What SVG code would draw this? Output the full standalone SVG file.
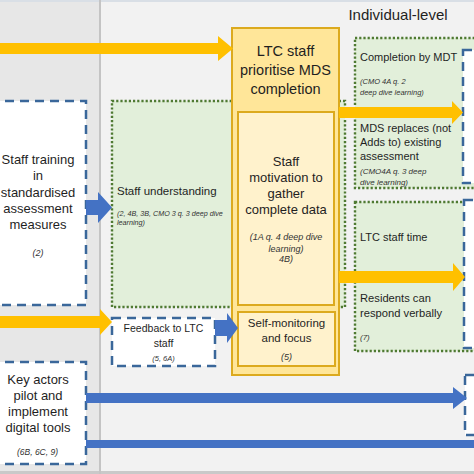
<svg xmlns="http://www.w3.org/2000/svg" width="474" height="474" viewBox="0 0 474 474">
<style>
text{font-family:"Liberation Sans",Arial,sans-serif;fill:#1f1f1f}
.it{font-style:italic;fill:#333333}
.c{text-anchor:middle}
.dash{fill:#ffffff;stroke:#3a679a;stroke-width:2.5;stroke-dasharray:9 6}
.dot{fill:#e2efda;stroke:#4f7a32;stroke-width:2.4;stroke-dasharray:2.2 2}
.gold{stroke:#dcaa1e;stroke-width:2}
.oa{fill:#ffc000}
.ba{fill:#4472c4}
</style>
<g id="background">
<rect x="0" y="0" width="100" height="474" fill="#e7e7e7"/>
<rect x="100" y="0" width="374" height="474" fill="#f2f2f2"/>
<rect x="0" y="0" width="474" height="2" fill="#d9dfe6"/>
<rect x="0" y="471" width="474" height="3" fill="#c9c9c9"/>
<line x1="100" y1="0" x2="100" y2="474" stroke="#c4c4c4" stroke-width="2"/>
<text x="398" y="20" class="c" font-size="15">Individual-level</text>
</g>
<g id="staff-training">
<rect x="-10" y="101" width="96" height="204" class="dash"/>
<text class="c" font-size="13"><tspan x="38" y="164">Staff training</tspan><tspan x="38" y="180">in</tspan><tspan x="38" y="197">standardised</tspan><tspan x="38" y="213">assessment</tspan><tspan x="38" y="229">measures</tspan></text>
<text x="38" y="256" class="c it" font-size="9">(2)</text>
</g>
<g id="staff-understanding">
<rect x="112" y="101" width="233" height="206" class="dot"/>
<text x="117" y="195" font-size="11.5">Staff understanding</text>
<text class="it" font-size="7.2"><tspan x="117" y="215.5">(2, 4B, 3B, CMO 3 q. 3 deep dive</tspan><tspan x="117" y="224.5">learning)</tspan></text>
</g>
<g id="right-green-1">
<rect x="355" y="38" width="125" height="150" class="dot"/>
<text x="360" y="61" font-size="11">Completion by MDT</text>
<text class="it" font-size="7.5"><tspan x="360" y="83.5">(CMO 4A q. 2</tspan><tspan x="360" y="94.5">deep dive learning)</tspan></text>
<text font-size="11"><tspan x="360" y="132">MDS replaces (not</tspan><tspan x="360" y="146">Adds to) existing</tspan><tspan x="360" y="160">assessment</tspan></text>
<text class="it" font-size="8"><tspan x="360" y="173.5">(CMO4A q. 3 deep</tspan><tspan x="360" y="184.5">dive learning)</tspan></text>
</g>
<g id="right-green-2">
<rect x="355" y="202" width="125" height="149" class="dot"/>
<text x="360" y="241" font-size="11">LTC staff time</text>
<text font-size="11.2"><tspan x="360" y="302">Residents can</tspan><tspan x="360" y="317">respond verbally</tspan></text>
<text x="360" y="340" class="it" font-size="8">(7)</text>
</g>
<g id="right-boxes">
<rect x="463" y="50" width="20" height="133" class="dash"/>
<rect x="464" y="200" width="20" height="148" class="dash"/>
<rect x="465" y="375" width="20" height="60" class="dash"/>
</g>
<g id="ltc-prioritise">
<rect x="232" y="28" width="107" height="347" fill="#ffe699" class="gold"/>
<text class="c" font-size="14.5"><tspan x="285.5" y="56">LTC staff</tspan><tspan x="285.5" y="75">prioritise MDS</tspan><tspan x="285.5" y="94">completion</tspan></text>
</g>
<g id="staff-motivation">
<rect x="238" y="112" width="96" height="193" fill="#fff2cc" class="gold"/>
<text class="c" font-size="13"><tspan x="286" y="166">Staff</tspan><tspan x="286" y="182">motivation to</tspan><tspan x="286" y="198">gather</tspan><tspan x="286" y="214">complete data</tspan></text>
<text class="c it" font-size="9"><tspan x="286" y="240">(1A q. 4 deep dive</tspan><tspan x="286" y="252">learning)</tspan><tspan x="286" y="262">4B)</tspan></text>
</g>
<g id="self-monitoring">
<rect x="238" y="312" width="97" height="54" fill="#fff2cc" class="gold"/>
<text class="c" font-size="11.5"><tspan x="286.5" y="327">Self-monitoring</tspan><tspan x="286.5" y="342">and focus</tspan></text>
<text x="286.5" y="360" class="c it" font-size="9">(5)</text>
</g>
<g id="feedback">
<rect x="112" y="318" width="103" height="48" class="dash"/>
<text class="c" font-size="10.5"><tspan x="163.5" y="332">Feedback to LTC</tspan><tspan x="163.5" y="347">staff</tspan></text>
<text x="163.5" y="360.5" class="c it" font-size="7.5">(5, 6A)</text>
</g>
<g id="key-actors">
<rect x="-10" y="362" width="96" height="102" class="dash"/>
<text class="c" font-size="13"><tspan x="38" y="384">Key actors</tspan><tspan x="38" y="400">pilot and</tspan><tspan x="38" y="416">implement</tspan><tspan x="38" y="432">digital tools</tspan></text>
<text x="37.5" y="455" class="c it" font-size="8.5">(6B, 6C, 9)</text>
</g>
<g id="connectors">
<path class="oa" d="M-5,43 H218 V36 L233,48.5 L218,61 V54 H-5 Z"/>
<path class="oa" d="M339,107 H452 V101 L463,112.5 L452,124 V118 H339 Z"/>
<path class="oa" d="M339,271 H453 V263 L465,277 L453,291 V283 H339 Z"/>
<path class="oa" d="M-5,316 H100 V309 L112,322 L100,335 V328 H-5 Z"/>
<path class="ba" d="M86,200 H98 V192 L112,207.5 L98,223 V215 H86 Z"/>
<path class="ba" d="M215,320 H227 V313 L238,328 L227,343 V336 H215 Z"/>
<path class="ba" d="M86,393 H453 V387 L467,398 L453,409 V403 H86 Z"/>
<rect class="ba" x="86" y="440" width="390" height="8"/>
</g>
</svg>
